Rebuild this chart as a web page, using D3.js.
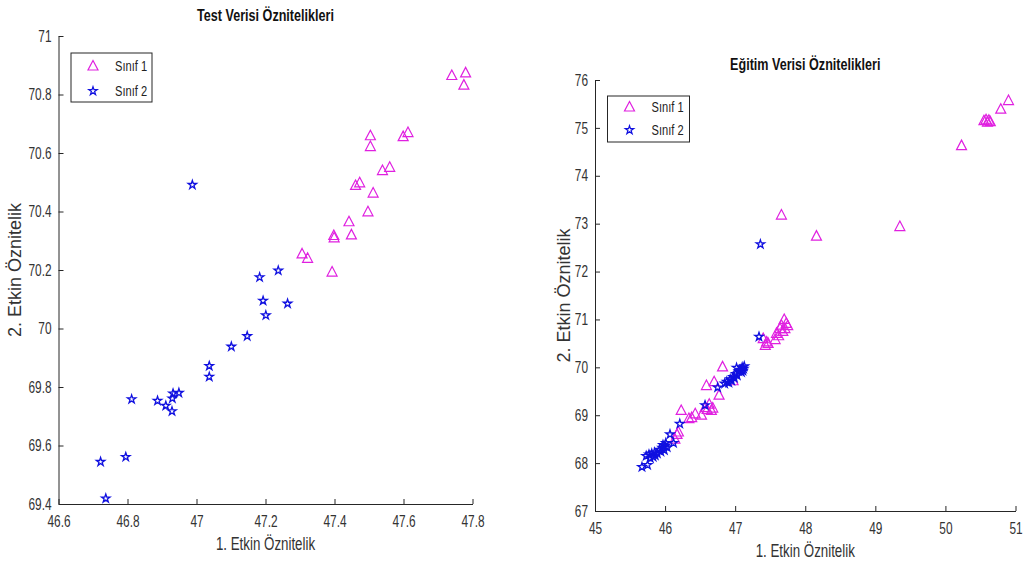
<!DOCTYPE html>
<html>
<head>
<meta charset="utf-8">
<script src="https://cdn.jsdelivr.net/npm/d3@7"></script>
<style>
  html, body { margin: 0; padding: 0; background: #fff; }
  svg { display: block; font-family: "Liberation Sans", Arial, sans-serif; }
</style>
</head>
<body>
<svg id="chart" width="1027" height="568"></svg>
<script>
// ---- test set (left panel) ----
const testX1 = [47.74, 47.78, 47.775, 47.504, 47.504, 47.599, 47.613, 47.539, 47.56, 47.461,
                47.473, 47.512, 47.497, 47.442, 47.398, 47.399, 47.449, 47.306, 47.322, 47.393];
const testY1 = [70.865, 70.874, 70.832, 70.659, 70.622, 70.656, 70.67, 70.54, 70.551, 70.489,
                70.498, 70.463, 70.399, 70.365, 70.318, 70.31, 70.32, 70.255, 70.24, 70.193];
const testX2 = [46.988, 47.183, 47.237, 47.193, 47.201, 47.264, 47.147, 47.101, 47.037, 47.037,
                46.812, 46.887, 46.911, 46.929, 46.932, 46.93, 46.949, 46.722, 46.795, 46.737];
const testY2 = [70.491, 70.175, 70.198, 70.095, 70.045, 70.085, 69.974, 69.938, 69.872, 69.835,
                69.758, 69.753, 69.736, 69.717, 69.778, 69.761, 69.78, 69.544, 69.561, 69.419];
const testXTicks = [46.6, 46.8, 47, 47.2, 47.4, 47.6, 47.8];
const testYTicks = [69.4, 69.6, 69.8, 70, 70.2, 70.4, 70.6, 70.8, 71];

// ---- training set (right panel) ----
const trainX1 = [46.14, 46.17, 46.19, 46.23, 46.34, 46.38, 46.43, 46.52, 46.57, 46.60,
                 46.63, 46.66, 46.68, 46.59, 46.70, 46.77, 46.82, 46.97,
                 47.40, 47.43, 47.45, 47.47, 47.57, 47.59, 47.62, 47.64, 47.66, 47.68,
                 47.70, 47.71, 47.73, 47.75,
                 47.66, 48.16, 49.35, 50.23, 50.55, 50.58, 50.60, 50.62, 50.64, 50.79, 50.90];
const trainY1 = [68.50, 68.60, 68.65, 69.10, 68.93, 68.95, 69.03, 69.00, 69.16, 69.12,
                 69.23, 69.10, 69.15, 69.62, 69.70, 69.42, 70.01, 69.72,
                 70.60, 70.46, 70.53, 70.50, 70.58, 70.71, 70.66, 70.81, 70.88, 70.75,
                 71.00, 70.81, 70.92, 70.87,
                 73.18, 72.74, 72.94, 74.63, 75.15, 75.17, 75.12, 75.16, 75.13, 75.39, 75.57];
const trainX2 = [45.67, 45.75, 45.73, 45.77, 45.79, 45.83, 45.85, 45.89, 45.92, 45.94,
                 45.96, 45.97, 46.00, 46.01, 46.03, 45.99, 45.86, 45.81,
                 46.07, 46.12, 46.21, 46.57, 46.75,
                 46.85, 46.88, 46.91, 46.93, 46.95, 46.97, 46.99, 47.01, 47.03, 47.02,
                 47.05, 47.07, 47.09, 47.10, 47.12, 47.13, 47.11,
                 47.34, 47.36];
const trainY2 = [67.92, 67.96, 68.15, 68.18, 68.10, 68.13, 68.22, 68.20, 68.28, 68.24,
                 68.32, 68.38, 68.36, 68.42, 68.33, 68.27, 68.16, 68.20,
                 68.60, 68.42, 68.82, 69.21, 69.58,
                 69.66, 69.70, 69.68, 69.75, 69.72, 69.80, 69.78, 69.86, 69.83, 69.99,
                 69.92, 69.95, 69.90, 70.00, 69.97, 70.02, 69.93,
                 70.64, 72.57];
const trainXTicks = [45, 46, 47, 48, 49, 50, 51];
const trainYTicks = [67, 68, 69, 70, 71, 72, 73, 74, 75, 76];

const classNames = ["Sınıf 1", "Sınıf 2"];
const axisColor = "#262626";
const c1Color = "#e020e0";
const c2Color = "#1010e0";

const svg = d3.select("#chart");
const triPath = "M0,-5.5L5,4L-5,4Z";
const starPath = d3.symbol().type(d3.symbolStar).size(22)();

function zip(xs, ys) { return xs.map((x, i) => [x, ys[i]]); }

function drawPanel(p) {
  const x = d3.scaleLinear().domain(p.xDomain).range([p.left, p.right]);
  const y = d3.scaleLinear().domain(p.yDomain).range([p.bottom, p.top]);
  const g = svg.append("g");

  // axes (inward ticks, no box)
  const xa = g.append("g").attr("transform", `translate(0,${p.bottom})`)
    .call(d3.axisBottom(x).tickValues(p.xTicks).tickSizeInner(-5).tickSizeOuter(0)
      .tickPadding(12).tickFormat(d => String(+d.toFixed(1))));
  const ya = g.append("g").attr("transform", `translate(${p.left},0)`)
    .call(d3.axisLeft(y).tickValues(p.yTicks).tickSizeInner(-5).tickSizeOuter(0)
      .tickPadding(7).tickFormat(d => String(+d.toFixed(1))));
  [xa, ya].forEach(a => {
    a.selectAll("path, line").attr("stroke", axisColor);
    a.selectAll("text").attr("fill", "#333").attr("font-size", 16)
      .attr("font-family", null).classed("squeeze", true);
  });

  // points
  g.append("g").selectAll("path").data(zip(p.x1, p.y1)).join("path")
    .attr("d", triPath)
    .attr("transform", d => `translate(${x(d[0])},${y(d[1])})`)
    .attr("fill", "none").attr("stroke", c1Color).attr("stroke-width", 1.2);
  g.append("g").selectAll("path").data(zip(p.x2, p.y2)).join("path")
    .attr("d", starPath)
    .attr("transform", d => `translate(${x(d[0])},${y(d[1])})`)
    .attr("fill", "none").attr("stroke", c2Color).attr("stroke-width", 1.3);

  // title and labels
  const cx = (p.left + p.right) / 2;
  g.append("text").attr("class", "squeeze").attr("x", cx).attr("y", p.top - p.titleGap)
    .attr("text-anchor", "middle").attr("font-weight", "bold").attr("font-size", 17)
    .attr("fill", "#111").text(p.title);
  g.append("text").attr("class", "squeeze").attr("x", cx).attr("y", p.bottom + 46)
    .attr("text-anchor", "middle").attr("font-size", 18).attr("fill", "#333")
    .text("1. Etkin Öznitelik");
  g.append("text")
    .attr("transform", `translate(${p.yLabelX},${(p.top + p.bottom) / 2}) rotate(-90)`)
    .attr("text-anchor", "middle").attr("font-size", 18).attr("fill", "#333")
    .text("2. Etkin Öznitelik");

  // legend
  const L = p.legend;
  const lg = g.append("g").attr("transform", `translate(${L.x},${L.y})`);
  lg.append("rect").attr("width", L.w).attr("height", L.h)
    .attr("fill", "#fff").attr("stroke", axisColor).attr("stroke-width", 1);
  const rows = [{ d: triPath, c: c1Color }, { d: starPath, c: c2Color }];
  rows.forEach((r, i) => {
    const ry = L.row0 + i * L.rowGap;
    lg.append("path").attr("d", r.d).attr("transform", `translate(22,${ry})`)
      .attr("fill", "none").attr("stroke", r.c).attr("stroke-width", 1.2);
    lg.append("text").attr("class", "squeeze").attr("x", 44).attr("y", ry + 5)
      .attr("font-size", 15).attr("fill", "#222").text(classNames[i]);
  });
}

drawPanel({
  title: "Test Verisi Öznitelikleri",
  xDomain: [46.6, 47.8], yDomain: [69.4, 71],
  left: 58.5, right: 472.5, top: 36, bottom: 504,
  xTicks: testXTicks, yTicks: testYTicks,
  x1: testX1, y1: testY1, x2: testX2, y2: testY2,
  yLabelX: 21, titleGap: 15,
  legend: { x: 71, y: 53, w: 81, h: 49, row0: 13, rowGap: 25 }
});

drawPanel({
  title: "Eğitim Verisi Öznitelikleri",
  xDomain: [45, 51], yDomain: [67, 76],
  left: 595, right: 1015.5, top: 80, bottom: 511,
  xTicks: trainXTicks, yTicks: trainYTicks,
  x1: trainX1, y1: trainY1, x2: trainX2, y2: trainY2,
  yLabelX: 570, titleGap: 10,
  legend: { x: 607.5, y: 96, w: 82, h: 46, row0: 11, rowGap: 23 }
});

// the figure is horizontally compressed: narrow the horizontal texts
svg.selectAll("text.squeeze").each(function () {
  const len = this.getComputedTextLength();
  d3.select(this).attr("textLength", len * 0.74).attr("lengthAdjust", "spacingAndGlyphs");
});
</script>
</body>
</html>
